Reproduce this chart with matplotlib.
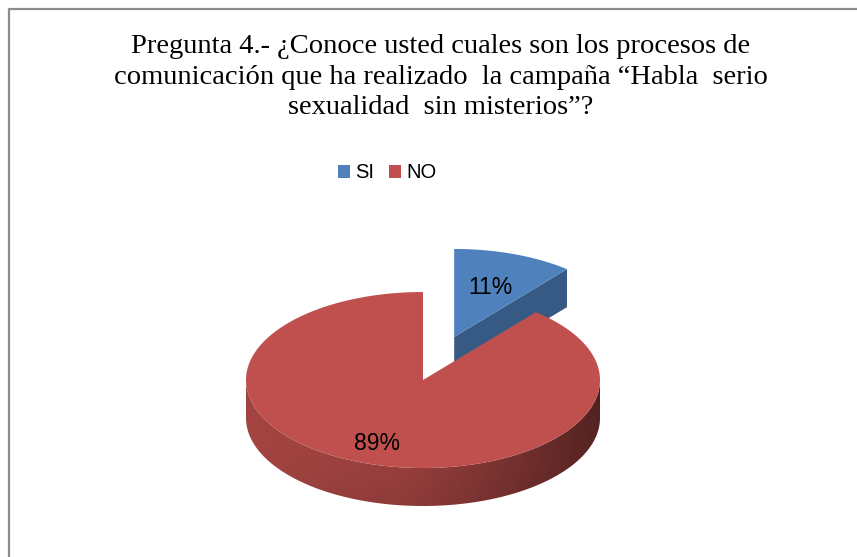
import numpy as np
import matplotlib.pyplot as plt
from matplotlib.patches import Polygon, Rectangle
from matplotlib.colors import to_rgb

# Datos del gráfico
labels = ['SI', 'NO']
shares = [11, 89]
top_colors = ['#4F81BD', '#C0504D']
title = ('Pregunta 4.- ¿Conoce usted cuales son los procesos de\n'
         'comunicación que ha realizado  la campaña “Habla  serio\n'
         'sexualidad  sin misterios”?')

W, H = 857, 557
fig = plt.figure(figsize=(W / 100, H / 100), dpi=100)
ax = fig.add_axes([0, 0, 1, 1])
ax.set_xlim(0, W)
ax.set_ylim(H, 0)
ax.axis('off')

# marco del área del gráfico (solo borde superior e izquierdo visible)
ax.plot([9, 9, W + 5], [H + 5, 9, 9], color='#8c8c8c', lw=1.6,
        solid_capstyle='butt')

# geometría del pastel en perspectiva
cx, cy = 423, 380
rx, ry = 177, 88
depth = 38
explode = [0.52, 0.0]


def pt(c, t, r=1.0):
    return (c[0] + r * rx * np.cos(t), c[1] - r * ry * np.sin(t))


fracs = np.array(shares) / sum(shares)
start = np.pi / 2
wedges = []
for f, e in zip(fracs, explode):
    t1 = start
    t0 = start - f * 2 * np.pi
    mid = (t0 + t1) / 2
    c = (cx + e * rx * np.cos(mid), cy - e * ry * np.sin(mid))
    wedges.append((c, t0, t1, mid))
    start = t0


def shade(col, k):
    r, g, b = to_rgb(col)
    return (r * k, g * k, b * k)


# SI: cara lateral radial (t0) y superficie
c, t0, t1, mid = wedges[0]
p = pt(c, t0)
side = [c, p, (p[0], p[1] + depth), (c[0], c[1] + depth)]
ax.add_patch(Polygon(side, closed=True, fc=shade(top_colors[0], 0.70),
                     ec='none', zorder=2))
ts = np.linspace(t0, t1, 80)
top = [c] + [pt(c, t) for t in ts]
ax.add_patch(Polygon(top, closed=True, fc=top_colors[0], ec='none', zorder=3))

# NO: costado frontal con degradado, luego superficie
c, t0, t1, mid = wedges[1]
ts = np.linspace(np.pi, 2 * np.pi, 200)
upper = [pt(c, t) for t in ts]
lower = [(x, y + depth) for x, y in upper[::-1]]
side_poly = Polygon(upper + lower, closed=True, fc='none', ec='none')
ax.add_patch(side_poly)
x0, x1 = c[0] - rx, c[0] + rx
y0, y1 = c[1] - 5, c[1] + ry + depth + 2
u = np.linspace(0, 1, 300)
k = 0.86 - 0.16 * u - 0.26 * np.clip((u - 0.45) / 0.55, 0, 1) ** 1.2
v = np.linspace(0, 1, 60)[:, None]
kk = k[None, :] * (0.93 + 0.07 * np.sin(np.pi * np.clip(v, 0, 1)))
base = np.array(to_rgb(top_colors[1]))
img = np.clip(kk[..., None] * base[None, None, :], 0, 1)
im = ax.imshow(img, extent=(x0, x1, y1, y0), aspect='auto',
               interpolation='bilinear', zorder=4)
im.set_clip_path(side_poly)
ts = np.linspace(t0, t1, 400)
top = [c] + [pt(c, t) for t in ts]
ax.add_patch(Polygon(top, closed=True, fc=top_colors[1], ec='none', zorder=5))

# etiquetas de porcentaje
label_r = [0.6, 0.77]
for (c, t0, t1, mid), s, r in zip(wedges, shares, label_r):
    x, y = pt(c, mid, r)
    ax.text(x, y, f'{s}%', ha='center', va='center', fontsize=16.5,
            family='Liberation Sans', color='black', zorder=6)

# título
ax.text(W / 2 + 12, 77, title, ha='center', va='center', fontsize=20.5,
        family='Liberation Serif', linespacing=1.27, color='black')

# leyenda
lx, ly = 338, 171
for lab, col in zip(labels, top_colors):
    ax.add_patch(Rectangle((lx, ly - 6.5), 12, 13, fc=col, ec='none'))
    ax.text(lx + 17, ly + 1, lab, ha='left', va='center', fontsize=14.5,
            family='Liberation Sans')
    lx += 51

ax.set_xlim(0, W)
ax.set_ylim(H, 0)
fig.savefig('out.png', dpi=100, facecolor='white')
